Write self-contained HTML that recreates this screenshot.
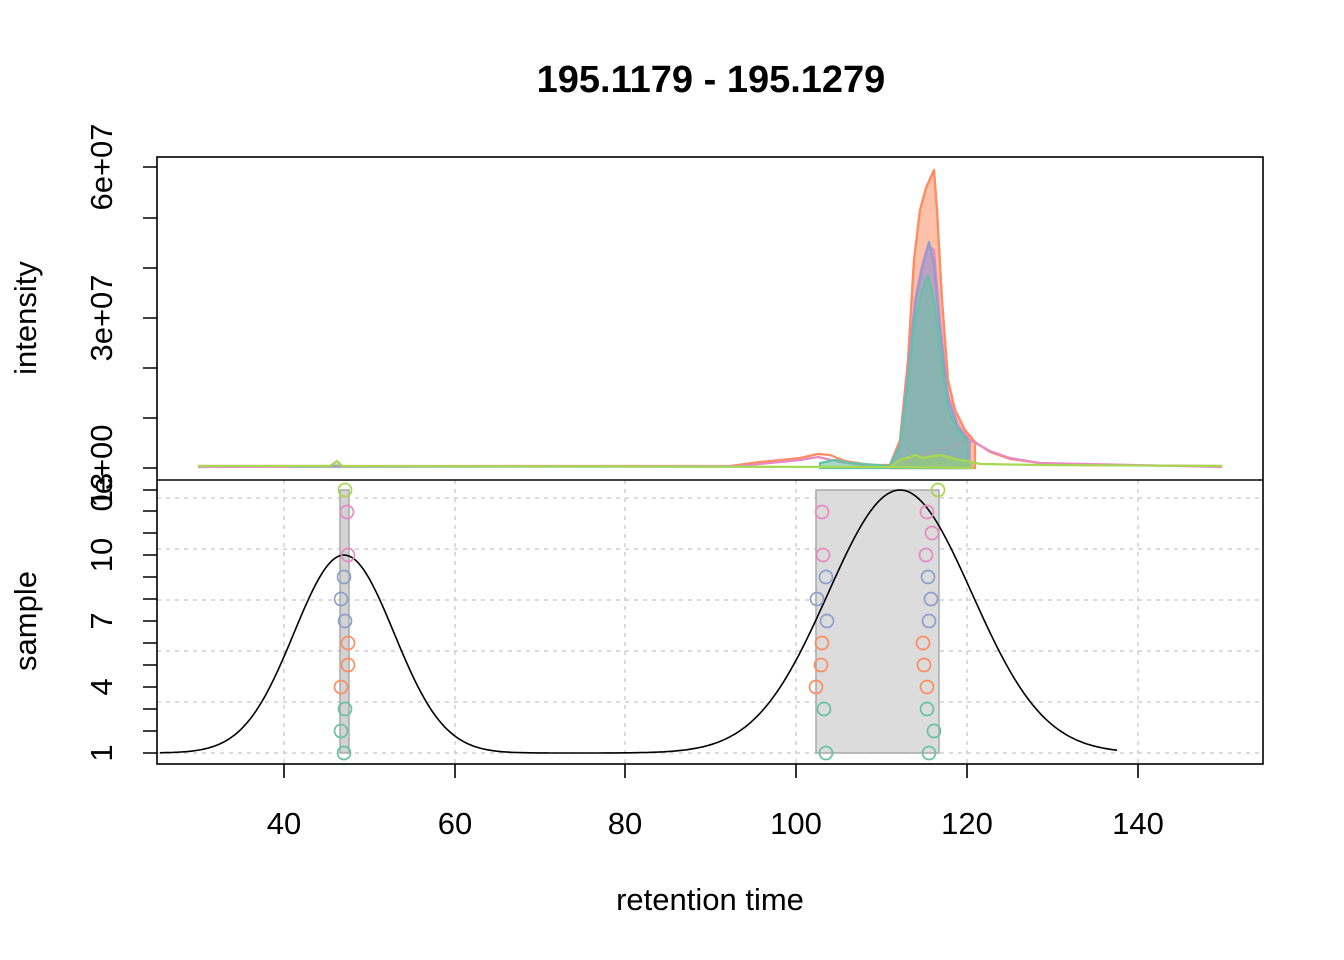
<!DOCTYPE html>
<html><head><style>
html,body{margin:0;padding:0;background:#fff;}
svg{display:block;font-family:"Liberation Sans",Arial,sans-serif;}
</style></head><body>
<svg width="1344" height="960" viewBox="0 0 1344 960" xmlns="http://www.w3.org/2000/svg">
<rect width="1344" height="960" fill="#fff"/>
<text x="711" y="92" text-anchor="middle" font-size="38" font-weight="bold">195.1179 - 195.1279</text>

<!-- bottom grid -->
<g stroke="#cfcfcf" stroke-width="1.5" stroke-dasharray="4,5" fill="none">
<line x1="284" y1="480" x2="284" y2="764"/><line x1="455" y1="480" x2="455" y2="764"/>
<line x1="625" y1="480" x2="625" y2="764"/><line x1="796" y1="480" x2="796" y2="764"/>
<line x1="967" y1="480" x2="967" y2="764"/><line x1="1138" y1="480" x2="1138" y2="764"/>
<line x1="157" y1="498" x2="1263" y2="498"/><line x1="157" y1="549" x2="1263" y2="549"/>
<line x1="157" y1="600" x2="1263" y2="600"/><line x1="157" y1="651" x2="1263" y2="651"/>
<line x1="157" y1="702" x2="1263" y2="702"/><line x1="157" y1="753" x2="1263" y2="753"/>
</g>
<rect x="340" y="490" width="9" height="263" fill="#d3d3d3" stroke="#aaa" stroke-width="1.5"/>
<rect x="816" y="490" width="123" height="263" fill="#dcdcdc" stroke="#aaa" stroke-width="1.5"/>

<path id="dens" fill="none" stroke="#000" stroke-width="1.6" d=""/>
<script>
(function(){var d="";for(var x=160;x<=1118;x+=3){var y=753-198*Math.exp(-Math.pow(x-344,2)/(2*50*50))-263*Math.exp(-Math.pow(x-900,2)/(2*72*72));d+=(x==160?"M":"L")+x+","+y.toFixed(1);}document.getElementById("dens").setAttribute("d",d);})();
</script>

<g fill="none" stroke-width="1.7">
<g stroke="#66C2A5"><circle cx="344" cy="753" r="6.5"/><circle cx="341" cy="731" r="6.5"/><circle cx="345" cy="709" r="6.5"/>
<circle cx="826" cy="753" r="6.5"/><circle cx="929" cy="753" r="6.5"/><circle cx="934" cy="731" r="6.5"/><circle cx="824" cy="709" r="6.5"/><circle cx="927" cy="709" r="6.5"/></g>
<g stroke="#FC8D62"><circle cx="341" cy="687" r="6.5"/><circle cx="348" cy="665" r="6.5"/><circle cx="348" cy="643" r="6.5"/>
<circle cx="816" cy="687" r="6.5"/><circle cx="927" cy="687" r="6.5"/><circle cx="821" cy="665" r="6.5"/><circle cx="924" cy="665" r="6.5"/><circle cx="822" cy="643" r="6.5"/><circle cx="923" cy="643" r="6.5"/></g>
<g stroke="#8DA0CB"><circle cx="345" cy="621" r="6.5"/><circle cx="341" cy="599" r="6.5"/><circle cx="344" cy="577" r="6.5"/>
<circle cx="827" cy="621" r="6.5"/><circle cx="929" cy="621" r="6.5"/><circle cx="817" cy="599" r="6.5"/><circle cx="931" cy="599" r="6.5"/><circle cx="826" cy="577" r="6.5"/><circle cx="928" cy="577" r="6.5"/></g>
<g stroke="#E78AC3"><circle cx="348" cy="555" r="6.5"/><circle cx="347" cy="512" r="6.5"/>
<circle cx="823" cy="555" r="6.5"/><circle cx="926" cy="555" r="6.5"/><circle cx="932" cy="533" r="6.5"/><circle cx="822" cy="512" r="6.5"/><circle cx="927" cy="512" r="6.5"/></g>
<g stroke="#A6D854"><circle cx="345" cy="490" r="6.5"/><circle cx="938" cy="490" r="6.5"/></g>
</g>

<g stroke-width="2.2" stroke-linejoin="round">
<polygon fill="#FC8D62" fill-opacity="0.55" stroke="#FC8D62" points="890,468 890,465 900,440 908,360 914,260 920,210 926,188 934,170 937,210 942,300 948,380 955,410 965,430 975,442 975,468"/>
<polyline fill="none" stroke="#FC8D62" points="198,466 730,466 760,462 800,458 818,454 830,455 845,461 870,465 890,465 900,440 908,360 914,260 920,210 926,188 934,170 937,210 942,300 948,380 955,410 965,430 975,442 990,452 1010,459 1040,463 1080,465 1222,466"/>
<polygon fill="#E78AC3" fill-opacity="0.6" stroke="#E78AC3" points="890,468 890,465 900,445 908,370 915,300 922,265 928,245 934,250 940,320 948,395 958,425 970,440 970,468"/>
<polygon fill="#8DA0CB" fill-opacity="0.5" stroke="#8DA0CB" points="890,468 890,465 900,445 908,375 915,305 922,270 929,242 934,265 940,330 948,400 958,428 968,440 968,468"/>
<polyline fill="none" stroke="#E78AC3" points="198,467 740,466 770,463 800,460 818,457 840,462 870,466 890,466 970,440 990,451 1010,458 1040,463 1222,467"/>
<polygon fill="#66C2A5" fill-opacity="0.6" stroke="#66C2A5" points="820,468 820,463 835,460 850,463 890,466 900,447 908,385 915,320 922,290 928,275 934,300 940,350 948,410 958,430 968,442 968,468"/>
<polygon fill="#66C2A5" fill-opacity="0.5" stroke="none" points="290,468 290,466 330,465 338,463 345,466 890,467 890,468"/>
<polyline fill="none" stroke="#A6D854" points="198,466 330,466 337,461 342,466 890,467 900,460 916,455 922,458 928,457 940,455 955,459 972,462 980,464 1040,465 1222,466"/>
<polygon fill="#A6D854" fill-opacity="0.4" stroke="#A6D854" points="890,467 900,460 916,455 922,458 928,457 940,455 955,459 972,462 972,468"/>
</g>

<g stroke="#000" stroke-width="1.6" fill="none">
<rect x="157" y="157" width="1106" height="607"/>
<line x1="157" y1="480" x2="1263" y2="480"/>
<path d="M157,468h-14M157,418h-14M157,368h-14M157,318h-14M157,268h-14M157,218h-14M157,167h-14"/>
<path d="M157,753h-14M157,731h-14M157,709h-14M157,687h-14M157,665h-14M157,643h-14M157,621h-14M157,599h-14M157,577h-14M157,555h-14M157,533h-14M157,511h-14M157,490h-14"/>
<path d="M284,764v14M455,764v14M625,764v14M796,764v14M967,764v14M1138,764v14"/>
</g>
<g font-size="31" text-anchor="middle">
<text x="284" y="834">40</text><text x="455" y="834">60</text><text x="625" y="834">80</text>
<text x="796" y="834">100</text><text x="967" y="834">120</text><text x="1138" y="834">140</text>
<text x="710" y="910">retention time</text>
<text transform="translate(112,468) rotate(-90)">0e+00</text>
<text transform="translate(112,318) rotate(-90)">3e+07</text>
<text transform="translate(112,167) rotate(-90)">6e+07</text>
<text transform="translate(112,753) rotate(-90)">1</text>
<text transform="translate(112,687) rotate(-90)">4</text>
<text transform="translate(112,621) rotate(-90)">7</text>
<text transform="translate(112,555) rotate(-90)">10</text>
<text transform="translate(112,490) rotate(-90)">13</text>
<text transform="translate(36,318) rotate(-90)">intensity</text>
<text transform="translate(36,621) rotate(-90)">sample</text>
</g>
</svg>
</body></html>
